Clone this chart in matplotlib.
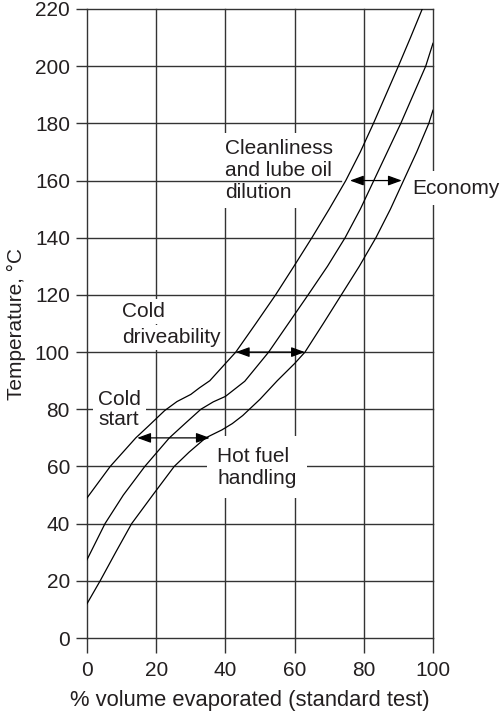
import matplotlib.pyplot as plt
import numpy as np

plt.rcParams['font.family'] = ['Liberation Sans', 'DejaVu Sans']
plt.rcParams['font.size'] = 15
ink = '#231f20'

# curves (x = % evaporated, y = temperature)
upper_x = [0, 6.7, 14.1, 17.9, 22.4, 26, 30, 32.5, 35.5, 43, 48.8, 54.5, 59.8, 65, 70, 74.8, 79, 82.8, 86.4, 90, 93.5, 96.9]
upper_y = [49, 60, 70, 74.3, 79.5, 82.7, 85.2, 87.5, 90, 100, 110, 120, 130, 140, 150, 160, 170, 180, 190, 200, 210, 220]
mid_x = [0, 5.2, 10.5, 16.7, 23.8, 28.5, 32.9, 36.5, 40, 45.6, 52.5, 58.2, 63.9, 69.5, 74.6, 79, 82.9, 86.8, 90.7, 94.3, 97.9, 100]
mid_y = [27.4, 40, 50, 60, 70, 75.2, 80, 82.6, 84.5, 89.8, 100, 110, 120, 130, 140, 150, 160, 170, 180, 190, 200, 208]
lower_x = [0, 3.8, 8.3, 12.9, 19, 25.2, 29.5, 34.3, 39, 42, 45, 50, 55, 60, 63, 68.3, 73.5, 78.7, 83.5, 87.7, 91.5, 95.3, 98.8, 100]
lower_y = [12, 20, 30, 40, 50, 60, 65, 70, 72.8, 75, 77.8, 83.5, 90, 96, 100, 110, 120, 130, 140, 150, 160, 170, 180, 184.6]

# double-headed arrows: (x start, x end, y)
arrows = [(14.5, 35.5, 70), (43, 63, 100), (76, 91, 160)]

xticks = np.arange(0, 101, 20)
yticks = np.arange(0, 221, 20)

fig = plt.figure(figsize=(5.02, 7.14), dpi=100)
ax = fig.add_axes([0.1733, 0.1064, 0.6892, 0.881])
ax.set_xlim(0, 100)
ax.set_ylim(0, 220)

for s in ax.spines.values():
    s.set_visible(False)

# grid drawn by hand so the labels can sit on white patches over it
for x in xticks:
    ax.axvline(x, color='#333333', lw=1.0, zorder=1, clip_on=False)
for y in yticks:
    if y == 160:
        ax.plot([0, 73.5], [y, y], color='#333333', lw=1.0, zorder=4, clip_on=False)
    else:
        ax.axhline(y, color='#333333', lw=1.0, zorder=1, clip_on=False)

ax.set_xticks(xticks)
ax.set_yticks(yticks)
ax.tick_params(axis='x', direction='out', length=10.8, width=1.0, color='#333333', pad=6, labelcolor=ink)
ax.tick_params(axis='y', direction='out', length=8, width=1.0, color='#333333', pad=4.3, labelcolor=ink)

ax.plot(upper_x, upper_y, color='black', lw=0.9, zorder=5)
ax.plot(mid_x, mid_y, color='black', lw=0.9, zorder=5)
ax.plot(lower_x, lower_y, color='black', lw=0.9, zorder=5)

for x0, x1, y in arrows:
    ax.annotate('', xy=(x1, y), xytext=(x0, y),
                arrowprops=dict(arrowstyle='<|-|>,head_length=0.55,head_width=0.2',
                                color='black', lw=0.9, shrinkA=0, shrinkB=0),
                zorder=6, annotation_clip=False)

white = dict(facecolor='white', edgecolor='none', boxstyle='square,pad=0.3')
ax.text(39.9, 163.6, 'Cleanliness\nand lube oil\ndilution', ha='left', va='center',
        color=ink, bbox=white, zorder=3)
ax.text(10.1, 112.2, 'Cold', ha='left', va='baseline', color=ink,
        bbox=dict(facecolor='white', edgecolor='none', boxstyle='square,pad=0.15'), zorder=3)
ax.text(10.1, 103.1, 'driveability', ha='left', va='baseline', color=ink,
        bbox=dict(facecolor='white', edgecolor='none', boxstyle='square,pad=0.15'), zorder=3)
ax.text(3.3, 80, 'Cold\nstart', ha='left', va='center', color=ink, linespacing=1.1,
        bbox=dict(facecolor='white', edgecolor='none', boxstyle='square,pad=0.25'), zorder=3)
ax.text(37.6, 59.8, 'Hot fuel\nhandling', ha='left', va='center', color=ink,
        bbox=dict(facecolor='white', edgecolor='none', boxstyle='square,pad=0.5'), zorder=3)
ax.text(93.9, 157.3, 'Economy', ha='left', va='center', color=ink,
        bbox=dict(facecolor='white', edgecolor='none', boxstyle='square,pad=0.35'), zorder=3)

ax.set_xlabel('% volume evaporated (standard test)', color=ink, fontsize=15.8)
ax.set_ylabel('Temperature, \u00b0C', color=ink)
ax.xaxis.set_label_coords(0.471, -0.083)
ax.yaxis.set_label_coords(-0.175, 0.5)

plt.savefig('out.png', dpi=100)
